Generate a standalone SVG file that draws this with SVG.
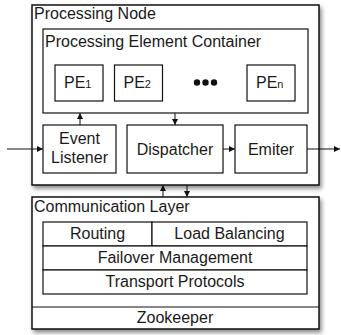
<svg xmlns="http://www.w3.org/2000/svg" width="341" height="335" viewBox="0 0 341 335">
<defs>
<filter id="sh" x="-10%" y="-10%" width="125%" height="125%">
<feDropShadow dx="2" dy="3" stdDeviation="2" flood-color="#000" flood-opacity="0.45"/>
</filter>
<marker id="ah" viewBox="0 0 6 6" refX="6" refY="3" markerWidth="6" markerHeight="6" orient="auto" markerUnits="userSpaceOnUse">
<path d="M0,0 L6,3 L0,6 Z" fill="#111"/>
</marker>
<style>
.outer{fill:#fff;stroke:#111;stroke-width:1.5}
.box{fill:#fff;stroke:#111;stroke-width:1.2}
.t{font-family:"Liberation Sans",Arial,sans-serif;font-size:16px;fill:#1a1a1a}
.c{text-anchor:middle}
.sub{font-size:11px}
.ln{stroke:#111;stroke-width:1;fill:none;marker-end:url(#ah)}
</style>
</defs>
<g id="processing-node">
<rect class="outer" x="32" y="5" width="287" height="180" filter="url(#sh)"/>
<text class="t" x="34" y="18.5">Processing Node</text>
</g>
<g id="pe-container">
<rect class="box" x="43" y="29" width="265" height="84"/>
<text class="t" x="45" y="47">Processing Element Container</text>
</g>
<g id="pe1">
<rect class="box" x="55" y="65" width="48" height="36"/>
<text class="t" x="64" y="88">PE<tspan class="sub">1</tspan></text>
</g>
<g id="pe2">
<rect class="box" x="114.5" y="65" width="48" height="36"/>
<text class="t" x="123.5" y="88">PE<tspan class="sub">2</tspan></text>
</g>
<g id="dots">
<circle cx="197" cy="82.5" r="3.2" fill="#111"/>
<circle cx="205.5" cy="82.5" r="3.2" fill="#111"/>
<circle cx="214" cy="82.5" r="3.2" fill="#111"/>
</g>
<g id="pen">
<rect class="box" x="247" y="65" width="48" height="36"/>
<text class="t" x="256" y="88">PE<tspan class="sub">n</tspan></text>
</g>
<g id="event-listener">
<rect class="box" x="43" y="125" width="73" height="48"/>
<text class="t c" x="79.5" y="144">Event</text>
<text class="t c" x="79.5" y="163">Listener</text>
</g>
<g id="dispatcher">
<rect class="box" x="127" y="125" width="96" height="48"/>
<text class="t c" x="175" y="154.5">Dispatcher</text>
</g>
<g id="emiter">
<rect class="box" x="235" y="125" width="72" height="48"/>
<text class="t c" x="271" y="154.5">Emiter</text>
</g>
<g id="communication-layer">
<rect class="outer" x="32" y="197" width="287" height="132" filter="url(#sh)"/>
<text class="t" x="34" y="211.5">Communication Layer</text>
<line x1="32" y1="307" x2="319" y2="307" stroke="#111" stroke-width="1.2"/>
</g>
<g id="routing">
<rect class="box" x="43" y="222" width="109" height="24"/>
<text class="t c" x="97.5" y="238.5">Routing</text>
</g>
<g id="load-balancing">
<rect class="box" x="152" y="222" width="155" height="24"/>
<text class="t c" x="229.5" y="238.5">Load Balancing</text>
</g>
<g id="failover">
<rect class="box" x="43" y="246" width="264" height="24"/>
<text class="t c" x="175" y="262.5">Failover Management</text>
</g>
<g id="transport">
<rect class="box" x="43" y="270" width="264" height="24"/>
<text class="t c" x="175" y="286.5">Transport Protocols</text>
</g>
<g id="zookeeper">
<text class="t c" x="175" y="323">Zookeeper</text>
</g>
<g id="connectors">
<line class="ln" x1="7" y1="149" x2="43" y2="149"/>
<line class="ln" x1="223" y1="149" x2="235" y2="149"/>
<line class="ln" x1="307" y1="149" x2="340" y2="149"/>
<line class="ln" x1="80" y1="125" x2="80" y2="113"/>
<line class="ln" x1="175" y1="113" x2="175" y2="125"/>
<line class="ln" x1="163" y1="197" x2="163" y2="185"/>
<line class="ln" x1="187" y1="185" x2="187" y2="197"/>
</g>
</svg>
